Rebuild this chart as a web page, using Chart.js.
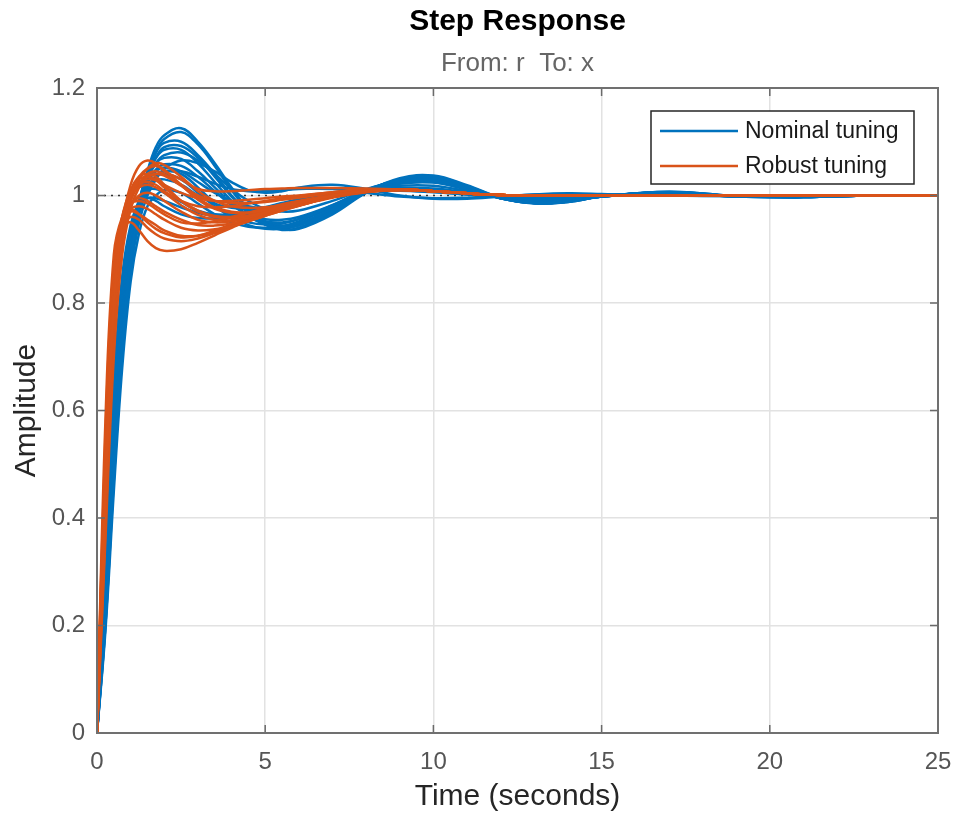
<!DOCTYPE html>
<html><head><meta charset="utf-8">
<script src="https://cdn.jsdelivr.net/npm/chart.js@4.4.1/dist/chart.umd.min.js"></script>
<style>html,body{margin:0;padding:0;background:#fff;}</style>
</head><body>
<canvas id="c" width="958" height="815"></canvas>
<script>
// ---------- data ----------
const time = [0, 0.25, 0.5, 0.75, 1.0, 1.25, 1.5, 1.75, 2.0, 2.5, 3.0, 3.5, 4.0, 4.5, 5.0, 5.5, 6.0, 7.0, 8.0, 9.0, 10.0, 11.0, 12.0, 13.0, 14.0, 15.0, 17.0, 19.0, 21.0, 23.0, 25.0];

const nominal1  = [0, 0.21, 0.49, 0.72, 0.88, 0.98, 1.045, 1.09, 1.112, 1.125, 1.10, 1.06, 1.015, 0.975, 0.948, 0.937, 0.938, 0.965, 1.005, 1.03, 1.036, 1.018, 0.996, 0.986, 0.988, 0.998, 1.007, 0.999, 0.997, 1.0, 1.0];
const nominal2  = [0, 0.22, 0.51, 0.74, 0.89, 0.985, 1.045, 1.08, 1.098, 1.10, 1.075, 1.04, 1.0, 0.968, 0.947, 0.94, 0.944, 0.97, 1.008, 1.03, 1.033, 1.016, 0.995, 0.986, 0.989, 0.998, 1.006, 0.999, 0.997, 1.0, 1.0];
const nominal3  = [0, 0.24, 0.53, 0.76, 0.90, 0.99, 1.04, 1.07, 1.085, 1.085, 1.06, 1.025, 0.99, 0.962, 0.946, 0.942, 0.948, 0.975, 1.01, 1.028, 1.03, 1.014, 0.995, 0.987, 0.99, 0.998, 1.006, 0.999, 0.998, 1.0, 1.0];
const nominal4  = [0, 0.26, 0.56, 0.78, 0.91, 0.99, 1.035, 1.06, 1.07, 1.068, 1.045, 1.015, 0.985, 0.963, 0.952, 0.95, 0.956, 0.98, 1.01, 1.026, 1.027, 1.012, 0.995, 0.988, 0.99, 0.998, 1.005, 0.999, 0.998, 1.0, 1.0];
const nominal5  = [0, 0.20, 0.47, 0.70, 0.86, 0.95, 1.0, 1.03, 1.05, 1.065, 1.06, 1.045, 1.025, 1.01, 1.005, 1.008, 1.015, 1.02, 1.012, 1.0, 0.994, 0.994, 0.998, 1.002, 1.004, 1.003, 1.0, 0.999, 1.0, 1.0, 1.0];
const nominal6  = [0, 0.28, 0.58, 0.80, 0.92, 0.99, 1.025, 1.045, 1.052, 1.045, 1.025, 1.005, 0.99, 0.98, 0.976, 0.978, 0.984, 0.998, 1.01, 1.018, 1.018, 1.008, 0.997, 0.992, 0.994, 0.999, 1.004, 0.999, 0.999, 1.0, 1.0];
const nominal7  = [0, 0.30, 0.60, 0.82, 0.93, 0.99, 1.015, 1.028, 1.03, 1.02, 1.0, 0.985, 0.977, 0.975, 0.978, 0.984, 0.99, 1.0, 1.008, 1.012, 1.01, 1.004, 0.998, 0.995, 0.996, 1.0, 1.003, 0.999, 1.0, 1.0, 1.0];
const nominal8  = [0, 0.33, 0.63, 0.84, 0.94, 0.99, 1.01, 1.012, 1.005, 0.988, 0.972, 0.965, 0.965, 0.97, 0.977, 0.985, 0.992, 1.002, 1.008, 1.01, 1.007, 1.002, 0.998, 0.996, 0.997, 1.0, 1.002, 1.0, 1.0, 1.0, 1.0];
const nominal9  = [0, 0.35, 0.65, 0.85, 0.945, 0.985, 0.995, 0.99, 0.98, 0.965, 0.958, 0.958, 0.962, 0.97, 0.978, 0.986, 0.993, 1.003, 1.008, 1.009, 1.006, 1.002, 0.998, 0.997, 0.998, 1.0, 1.002, 1.0, 1.0, 1.0, 1.0];
const nominal10 = [0, 0.22, 0.50, 0.73, 0.88, 0.965, 1.01, 1.035, 1.045, 1.04, 1.015, 0.985, 0.96, 0.945, 0.938, 0.938, 0.945, 0.972, 1.005, 1.027, 1.032, 1.016, 0.995, 0.986, 0.989, 0.998, 1.006, 0.998, 0.997, 1.0, 1.0];
const nominal11 = [0, 0.25, 0.54, 0.77, 0.90, 0.975, 1.015, 1.035, 1.04, 1.03, 1.005, 0.98, 0.96, 0.95, 0.946, 0.948, 0.956, 0.982, 1.01, 1.024, 1.025, 1.011, 0.996, 0.989, 0.991, 0.999, 1.005, 0.999, 0.998, 1.0, 1.0];
const nominal12 = [0, 0.23, 0.52, 0.75, 0.895, 0.98, 1.03, 1.06, 1.075, 1.08, 1.065, 1.04, 1.012, 0.99, 0.975, 0.97, 0.972, 0.99, 1.012, 1.026, 1.028, 1.014, 0.997, 0.99, 0.992, 0.999, 1.005, 0.999, 0.998, 1.0, 1.0];
const nominal13 = [0, 0.20, 0.48, 0.71, 0.87, 0.97, 1.035, 1.08, 1.105, 1.118, 1.095, 1.055, 1.01, 0.972, 0.946, 0.936, 0.94, 0.968, 1.006, 1.032, 1.037, 1.019, 0.996, 0.985, 0.988, 0.998, 1.007, 0.999, 0.997, 1.0, 1.0];
const nominal14 = [0, 0.19, 0.45, 0.68, 0.84, 0.93, 0.98, 1.0, 1.01, 1.005, 0.985, 0.965, 0.95, 0.942, 0.94, 0.943, 0.952, 0.978, 1.008, 1.028, 1.033, 1.017, 0.995, 0.986, 0.989, 0.998, 1.006, 0.998, 0.997, 1.0, 1.0];
const nominal15 = [0, 0.23, 0.52, 0.75, 0.89, 0.98, 1.035, 1.07, 1.09, 1.092, 1.07, 1.035, 0.998, 0.968, 0.95, 0.944, 0.948, 0.974, 1.008, 1.03, 1.034, 1.017, 0.995, 0.986, 0.989, 0.998, 1.006, 0.999, 0.997, 1.0, 1.0];
const nominal16 = [0, 0.27, 0.57, 0.79, 0.915, 0.985, 1.025, 1.048, 1.058, 1.055, 1.035, 1.008, 0.982, 0.965, 0.956, 0.955, 0.96, 0.982, 1.008, 1.022, 1.024, 1.011, 0.996, 0.99, 0.992, 0.999, 1.005, 0.999, 0.998, 1.0, 1.0];
const nominal17 = [0, 0.24, 0.53, 0.76, 0.90, 0.975, 1.015, 1.035, 1.045, 1.045, 1.035, 1.022, 1.012, 1.008, 1.008, 1.01, 1.012, 1.012, 1.005, 0.998, 0.995, 0.996, 0.999, 1.002, 1.003, 1.002, 1.0, 0.999, 1.0, 1.0, 1.0];
const nominal18 = [0, 0.31, 0.61, 0.83, 0.935, 0.98, 0.995, 0.995, 0.99, 0.978, 0.968, 0.962, 0.962, 0.967, 0.975, 0.983, 0.99, 1.002, 1.01, 1.014, 1.013, 1.006, 0.999, 0.995, 0.996, 0.999, 1.003, 0.999, 1.0, 1.0, 1.0];

const robust1  = [0, 0.45, 0.80, 0.95, 1.02, 1.055, 1.065, 1.06, 1.045, 1.03, 1.012, 1.008, 1.008, 1.01, 1.012, 1.013, 1.014, 1.014, 1.013, 1.011, 1.008, 1.004, 1.001, 1.0, 1.0, 1.0, 1.0, 1.0, 1.0, 1.0, 1.0];
const robust2  = [0, 0.42, 0.77, 0.93, 1.0, 1.035, 1.05, 1.055, 1.048, 1.02, 0.992, 0.975, 0.968, 0.968, 0.973, 0.98, 0.987, 1.0, 1.009, 1.011, 1.008, 1.004, 1.001, 1.0, 1.0, 1.0, 1.0, 1.0, 1.0, 1.0, 1.0];
const robust3  = [0, 0.48, 0.83, 0.96, 1.01, 1.035, 1.04, 1.035, 1.02, 0.99, 0.97, 0.96, 0.958, 0.962, 0.969, 0.978, 0.986, 1.0, 1.009, 1.011, 1.008, 1.004, 1.001, 1.0, 1.0, 1.0, 1.0, 1.0, 1.0, 1.0, 1.0];
const robust4  = [0, 0.50, 0.85, 0.96, 1.0, 1.015, 1.02, 1.015, 1.005, 0.982, 0.964, 0.955, 0.954, 0.959, 0.967, 0.976, 0.985, 0.999, 1.008, 1.011, 1.008, 1.004, 1.001, 1.0, 1.0, 1.0, 1.0, 1.0, 1.0, 1.0, 1.0];
const robust5  = [0, 0.40, 0.75, 0.92, 0.98, 1.0, 1.005, 1.0, 0.99, 0.97, 0.955, 0.95, 0.952, 0.958, 0.966, 0.975, 0.983, 0.998, 1.008, 1.011, 1.008, 1.004, 1.001, 1.0, 1.0, 1.0, 1.0, 1.0, 1.0, 1.0, 1.0];
const robust6  = [0, 0.52, 0.86, 0.95, 0.975, 0.98, 0.975, 0.965, 0.955, 0.94, 0.935, 0.937, 0.943, 0.952, 0.962, 0.972, 0.981, 0.997, 1.007, 1.01, 1.008, 1.004, 1.001, 1.0, 1.0, 1.0, 1.0, 1.0, 1.0, 1.0, 1.0];
const robust7  = [0, 0.55, 0.87, 0.94, 0.95, 0.935, 0.915, 0.902, 0.897, 0.90, 0.912, 0.926, 0.94, 0.953, 0.964, 0.974, 0.982, 0.996, 1.006, 1.01, 1.008, 1.004, 1.001, 1.0, 1.0, 1.0, 1.0, 1.0, 1.0, 1.0, 1.0];
const robust8  = [0, 0.53, 0.86, 0.945, 0.96, 0.955, 0.94, 0.928, 0.92, 0.915, 0.92, 0.93, 0.942, 0.953, 0.963, 0.973, 0.982, 0.997, 1.007, 1.01, 1.008, 1.004, 1.001, 1.0, 1.0, 1.0, 1.0, 1.0, 1.0, 1.0, 1.0];
const robust9  = [0, 0.38, 0.72, 0.90, 0.99, 1.03, 1.05, 1.06, 1.057, 1.035, 1.008, 0.99, 0.98, 0.977, 0.978, 0.982, 0.988, 1.0, 1.008, 1.011, 1.008, 1.004, 1.001, 1.0, 1.0, 1.0, 1.0, 1.0, 1.0, 1.0, 1.0];
const robust10 = [0, 0.46, 0.81, 0.94, 0.985, 0.995, 0.99, 0.98, 0.97, 0.955, 0.945, 0.944, 0.948, 0.955, 0.964, 0.974, 0.982, 0.998, 1.007, 1.01, 1.008, 1.004, 1.001, 1.0, 1.0, 1.0, 1.0, 1.0, 1.0, 1.0, 1.0];
const robust11 = [0, 0.44, 0.79, 0.94, 1.0, 1.025, 1.03, 1.028, 1.015, 0.99, 0.972, 0.962, 0.96, 0.963, 0.97, 0.978, 0.986, 0.999, 1.008, 1.011, 1.008, 1.004, 1.001, 1.0, 1.0, 1.0, 1.0, 1.0, 1.0, 1.0, 1.0];
const robust12 = [0, 0.50, 0.84, 0.945, 0.97, 0.965, 0.955, 0.945, 0.935, 0.925, 0.925, 0.932, 0.942, 0.952, 0.962, 0.972, 0.981, 0.997, 1.007, 1.01, 1.008, 1.004, 1.001, 1.0, 1.0, 1.0, 1.0, 1.0, 1.0, 1.0, 1.0];
const robust13 = [0, 0.58, 0.89, 0.96, 0.975, 0.965, 0.95, 0.938, 0.93, 0.922, 0.925, 0.935, 0.946, 0.956, 0.965, 0.974, 0.982, 0.997, 1.007, 1.01, 1.008, 1.004, 1.001, 1.0, 1.0, 1.0, 1.0, 1.0, 1.0, 1.0, 1.0];
const robust14 = [0, 0.36, 0.70, 0.89, 0.975, 1.015, 1.035, 1.04, 1.037, 1.018, 0.995, 0.978, 0.97, 0.968, 0.971, 0.977, 0.985, 0.999, 1.008, 1.011, 1.008, 1.004, 1.001, 1.0, 1.0, 1.0, 1.0, 1.0, 1.0, 1.0, 1.0];
const robust15 = [0, 0.47, 0.82, 0.955, 1.005, 1.03, 1.035, 1.03, 1.02, 1.005, 0.995, 0.99, 0.99, 0.992, 0.995, 0.998, 1.0, 1.006, 1.011, 1.011, 1.008, 1.004, 1.001, 1.0, 1.0, 1.0, 1.0, 1.0, 1.0, 1.0, 1.0];
const robust16 = [0, 0.43, 0.78, 0.935, 0.995, 1.02, 1.025, 1.02, 1.008, 0.99, 0.98, 0.978, 0.98, 0.985, 0.99, 0.995, 0.999, 1.006, 1.011, 1.011, 1.008, 1.004, 1.001, 1.0, 1.0, 1.0, 1.0, 1.0, 1.0, 1.0, 1.0];
const robust17 = [0, 0.51, 0.85, 0.955, 0.985, 0.99, 0.985, 0.975, 0.965, 0.95, 0.948, 0.952, 0.96, 0.968, 0.976, 0.984, 0.99, 1.001, 1.009, 1.011, 1.008, 1.004, 1.001, 1.0, 1.0, 1.0, 1.0, 1.0, 1.0, 1.0, 1.0];
const robust18 = [0, 0.41, 0.76, 0.925, 0.99, 1.02, 1.04, 1.045, 1.04, 1.02, 1.0, 0.99, 0.986, 0.986, 0.988, 0.992, 0.996, 1.004, 1.01, 1.011, 1.008, 1.004, 1.001, 1.0, 1.0, 1.0, 1.0, 1.0, 1.0, 1.0, 1.0];

const nominalCurves = [nominal1, nominal2, nominal3, nominal4, nominal5, nominal6, nominal7, nominal8, nominal9,
  nominal10, nominal11, nominal12, nominal13, nominal14, nominal15, nominal16, nominal17, nominal18];
const robustCurves  = [robust1, robust2, robust3, robust4, robust5, robust6, robust7, robust8, robust9,
  robust10, robust11, robust12, robust13, robust14, robust15, robust16, robust17, robust18];

const seriesNames = ['Nominal tuning', 'Robust tuning'];
const seriesColors = ['#0072BD', '#D95319'];
const steadyStateValue = 1;
const xTickValues = [0, 5, 10, 15, 20, 25];
const yTickValues = [0, 0.2, 0.4, 0.6, 0.8, 1, 1.2];
const chartTitle = 'Step Response';
const chartSubtitle = 'From: r  To: x';
const xAxisTitle = 'Time (seconds)';
const yAxisTitle = 'Amplitude';

// ---------- datasets ----------
const FONT = "'Liberation Sans', Arial, Helvetica, sans-serif";
const toPoints = arr => arr.map((v, i) => ({x: time[i], y: v}));
const datasets = [];
nominalCurves.forEach(c => datasets.push({
  label: seriesNames[0], data: toPoints(c), borderColor: seriesColors[0],
  borderWidth: 2.5, pointRadius: 0, tension: 0.4, fill: false, order: 2
}));
robustCurves.forEach(c => datasets.push({
  label: seriesNames[1], data: toPoints(c), borderColor: seriesColors[1],
  borderWidth: 2.5, pointRadius: 0, tension: 0.4, fill: false, order: 1
}));
datasets.push({
  label: 'steady', data: [{x: xTickValues[0], y: steadyStateValue}, {x: xTickValues[xTickValues.length-1], y: steadyStateValue}],
  borderColor: '#333333', borderWidth: 1.5, borderDash: [2, 5], pointRadius: 0, order: 3
});

const framePlugin = {
  id: 'frame',
  afterDraw(chart) {
    const {ctx, chartArea: a, scales: {x, y}} = chart;
    ctx.save();
    ctx.strokeStyle = '#6a6a6a';
    ctx.lineWidth = 1.5;
    const tl = 8;
    ctx.beginPath();
    xTickValues.forEach(v => {
      const px = x.getPixelForValue(v);
      ctx.moveTo(px, a.bottom); ctx.lineTo(px, a.bottom - tl);
      ctx.moveTo(px, a.top); ctx.lineTo(px, a.top + tl);
    });
    yTickValues.forEach(v => {
      const py = y.getPixelForValue(v);
      ctx.moveTo(a.left, py); ctx.lineTo(a.left + tl, py);
      ctx.moveTo(a.right, py); ctx.lineTo(a.right - tl, py);
    });
    ctx.stroke();
    ctx.strokeStyle = '#707070';
    ctx.lineWidth = 2;
    ctx.strokeRect(a.left, a.top, a.right - a.left, a.bottom - a.top);

    // legend (top-right inside the axes)
    const bw = 263, bh = 73;
    const bx = a.right - 24 - bw, by = a.top + 23;
    ctx.fillStyle = '#ffffff';
    ctx.fillRect(bx, by, bw, bh);
    ctx.strokeStyle = '#262626';
    ctx.lineWidth = 1.5;
    ctx.strokeRect(bx, by, bw, bh);
    ctx.font = '23px ' + FONT;
    ctx.textBaseline = 'middle';
    ctx.textAlign = 'left';
    seriesNames.forEach((name, i) => {
      const ly = by + 20 + i * 35;
      ctx.strokeStyle = seriesColors[i];
      ctx.lineWidth = 2.5;
      ctx.beginPath(); ctx.moveTo(bx + 9, ly); ctx.lineTo(bx + 87, ly); ctx.stroke();
      ctx.fillStyle = '#1a1a1a';
      ctx.fillText(name, bx + 94, ly + 1);
    });
    ctx.restore();
  }
};

new Chart(document.getElementById('c'), {
  type: 'line',
  data: {datasets},
  options: {
    responsive: false, animation: false, devicePixelRatio: 1,
    layout: {padding: {left: 0, right: 20, top: 0, bottom: 0}},
    plugins: {
      legend: {display: false},
      tooltip: {enabled: false},
      title: {display: true, text: chartTitle, color: '#000', fullSize: false,
              font: {family: FONT, size: 30, weight: 'bold', lineHeight: 1.2},
              padding: {top: 4, bottom: 0}},
      subtitle: {display: true, text: chartSubtitle, color: '#666', fullSize: false,
              font: {family: FONT, size: 26, lineHeight: 1.2},
              padding: {top: 8, bottom: 8.8}}
    },
    scales: {
      x: {
        type: 'linear', min: 0, max: 25,
        afterBuildTicks: s => { s.ticks = xTickValues.map(v => ({value: v})); },
        afterFit: s => { s.height = 82; s.paddingLeft = 0; s.paddingRight = 0; },
        ticks: {color: '#555', font: {family: FONT, size: 24}, padding: 15, maxRotation: 0, autoSkip: false,
                callback: v => String(v)},
        grid: {color: '#e2e2e2', lineWidth: 1.5, drawTicks: false},
        border: {display: false},
        title: {display: true, text: xAxisTitle, color: '#262626',
                font: {family: FONT, size: 30, lineHeight: 1.2}, padding: {top: 0, bottom: 0}}
      },
      y: {
        type: 'linear', min: 0, max: 1.2,
        afterBuildTicks: s => { s.ticks = yTickValues.map(v => ({value: v})); },
        afterFit: s => { s.width = 97; s.paddingTop = 0; s.paddingBottom = 0; },
        ticks: {color: '#555', font: {family: FONT, size: 24}, padding: 12, autoSkip: false,
                callback: v => String(Math.round(v * 10) / 10)},
        grid: {color: '#e2e2e2', lineWidth: 1.5, drawTicks: false},
        border: {display: false},
        title: {display: true, text: yAxisTitle, color: '#262626',
                font: {family: FONT, size: 30, lineHeight: 1.2}, padding: {top: 9, bottom: 0}}
      }
    }
  },
  plugins: [framePlugin]
});
</script>
</body></html>
